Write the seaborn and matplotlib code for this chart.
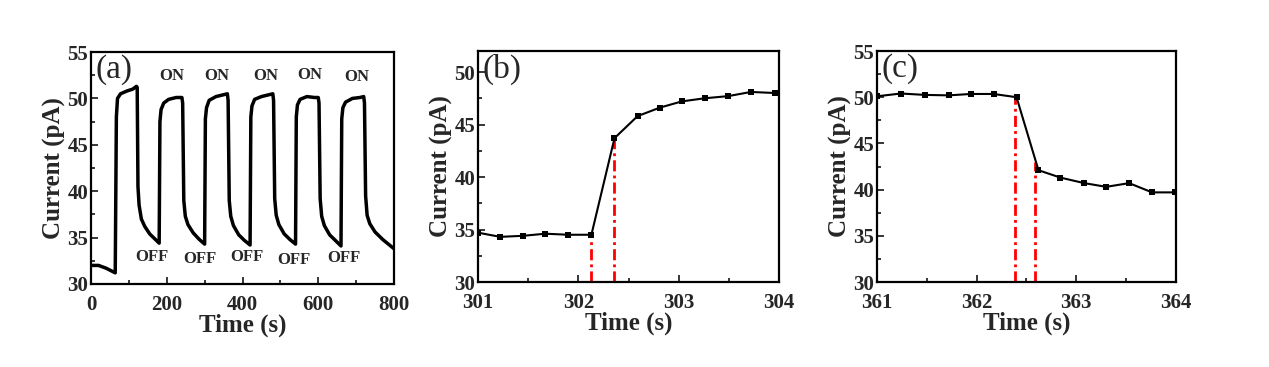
import pandas as pd
import matplotlib
matplotlib.use("Agg")
import matplotlib.pyplot as plt
from matplotlib.ticker import MultipleLocator
import seaborn as sns

# (a) on/off cycling trace
t_a = [0, 20, 40, 64,
       67, 70, 78, 95, 110, 120,
       122, 124, 127, 133, 142, 155, 170, 180,
       182, 185, 192, 205, 225, 240,
       242, 245, 249, 256, 270, 286, 300,
       302, 305, 312, 330, 350, 360,
       362, 365, 369, 376, 390, 405, 420,
       422, 425, 432, 450, 470, 480,
       482, 485, 489, 496, 510, 525, 540,
       542, 545, 552, 570, 590, 600,
       602, 605, 609, 616, 630, 645, 660,
       662, 665, 672, 690, 710, 720,
       722, 725, 729, 736, 750, 770, 785, 800]
i_a = [32.0, 32.0, 31.7, 31.2,
       48.0, 50.0, 50.5, 50.8, 51.0, 51.3,
       51.2, 40.5, 38.5, 37.0, 36.2, 35.4, 34.8, 34.4,
       47.5, 48.8, 49.5, 49.9, 50.1, 50.1,
       49.5, 39.0, 37.3, 36.4, 35.5, 34.8, 34.3,
       47.8, 49.0, 49.8, 50.2, 50.4, 50.5,
       49.8, 39.0, 37.3, 36.3, 35.3, 34.7, 34.2,
       48.0, 49.2, 49.9, 50.2, 50.4, 50.5,
       49.8, 39.2, 37.4, 36.4, 35.4, 34.8, 34.3,
       48.0, 49.3, 49.9, 50.2, 50.1, 50.1,
       49.5, 39.2, 37.3, 36.3, 35.3, 34.7, 34.1,
       47.8, 49.0, 49.6, 50.0, 50.1, 50.2,
       49.5, 39.5, 37.4, 36.5, 35.6, 34.8, 34.3, 33.8]

on_t = [214, 332, 462, 578, 702]
on_y = [52.4, 52.4, 52.4, 52.5, 52.3]
off_t = [160, 288, 412, 536, 668]
off_y = [32.9, 32.7, 32.9, 32.6, 32.8]

# (b) rise, sampled points
t_b = [301.0, 301.22, 301.45, 301.67, 301.9, 302.13, 302.36, 302.59,
       302.81, 303.03, 303.26, 303.49, 303.72, 303.96]
i_b = [34.7, 34.3, 34.4, 34.6, 34.5, 34.5, 43.7, 45.8,
       46.6, 47.2, 47.5, 47.7, 48.1, 48.0]
mark_b = [302.13, 302.36]
mark_b_y = [34.5, 43.7]

# (c) decay, sampled points
t_c = [361.0, 361.24, 361.48, 361.72, 361.94, 362.17, 362.4, 362.62,
       362.84, 363.08, 363.3, 363.53, 363.76, 363.99]
i_c = [50.1, 50.4, 50.25, 50.2, 50.35, 50.35, 50.0, 42.1,
       41.3, 40.7, 40.3, 40.7, 39.7, 39.7]
mark_c = [362.38, 362.59]
mark_c_y = [50.0, 43.0]

sns.set_style("ticks")
plt.rcParams['font.family'] = ['Liberation Serif', 'DejaVu Serif']

fig = plt.figure(figsize=(12.69, 3.67), dpi=100)
ax_a = fig.add_axes([0.0717, 0.2262, 0.2388, 0.632])
ax_b = fig.add_axes([0.3767, 0.2316, 0.2372, 0.6294])
ax_c = fig.add_axes([0.6911, 0.2316, 0.2356, 0.6294])

df_a = pd.DataFrame({'t': t_a, 'i': i_a})
sns.lineplot(data=df_a, x='t', y='i', ax=ax_a, color='black', lw=2.5,
             estimator=None, sort=False)
for x, y in zip(on_t, on_y):
    ax_a.text(x, y, 'ON', ha='center', va='center', fontsize=12, fontweight='bold')
for x, y in zip(off_t, off_y):
    ax_a.text(x, y, 'OFF', ha='center', va='center', fontsize=12, fontweight='bold')

df_b = pd.DataFrame({'t': t_b, 'i': i_b})
sns.lineplot(data=df_b, x='t', y='i', ax=ax_b, color='black', lw=1.5,
             marker='s', markersize=4, markeredgewidth=0, estimator=None)
df_c = pd.DataFrame({'t': t_c, 'i': i_c})
sns.lineplot(data=df_c, x='t', y='i', ax=ax_c, color='black', lw=1.5,
             marker='s', markersize=4, markeredgewidth=0, estimator=None)

for ax, xs, ys in [(ax_b, mark_b, mark_b_y), (ax_c, mark_c, mark_c_y)]:
    for x, y in zip(xs, ys):
        ax.plot([x, x], [30, y], color='red', lw=2, ls=(0, (4, 1.5, 1, 1.5)), zorder=1)

ax_a.set_xlim(0, 800)
ax_a.set_ylim(30, 55)
ax_a.xaxis.set_major_locator(MultipleLocator(200))
ax_a.xaxis.set_minor_locator(MultipleLocator(100))
ax_a.yaxis.set_major_locator(MultipleLocator(5))
ax_a.yaxis.set_minor_locator(MultipleLocator(2.5))

ax_b.set_xlim(301, 304)
ax_b.set_ylim(30, 52)
ax_c.set_xlim(361, 364)
ax_c.set_ylim(30, 55)
for ax in (ax_b, ax_c):
    ax.xaxis.set_major_locator(MultipleLocator(1))
    ax.xaxis.set_minor_locator(MultipleLocator(0.5))
    ax.yaxis.set_major_locator(MultipleLocator(5))
    ax.yaxis.set_minor_locator(MultipleLocator(2.5))

for ax, letter in zip((ax_a, ax_b, ax_c), ('(a)', '(b)', '(c)')):
    ax.set_xlabel('Time (s)', fontsize=18, fontweight='bold', labelpad=-1)
    ax.set_ylabel('Current (pA)', fontsize=18, fontweight='bold', labelpad=1)
    ax.tick_params(which='both', direction='in', top=False, right=False,
                   width=1.3, labelsize=15)
    ax.tick_params(axis='x', which='both', pad=8)
    ax.tick_params(axis='y', which='both', pad=2)
    ax.tick_params(which='major', length=5)
    ax.tick_params(which='minor', length=3)
    for lab in ax.get_xticklabels() + ax.get_yticklabels():
        lab.set_fontweight('bold')
    for s in ax.spines.values():
        s.set_visible(True)
        s.set_linewidth(1.6)
        s.set_color('black')
    ax.text(0.015, 0.99, letter, transform=ax.transAxes, ha='left', va='top',
            fontsize=24)

fig.savefig('out.png', dpi=100, facecolor='white')
